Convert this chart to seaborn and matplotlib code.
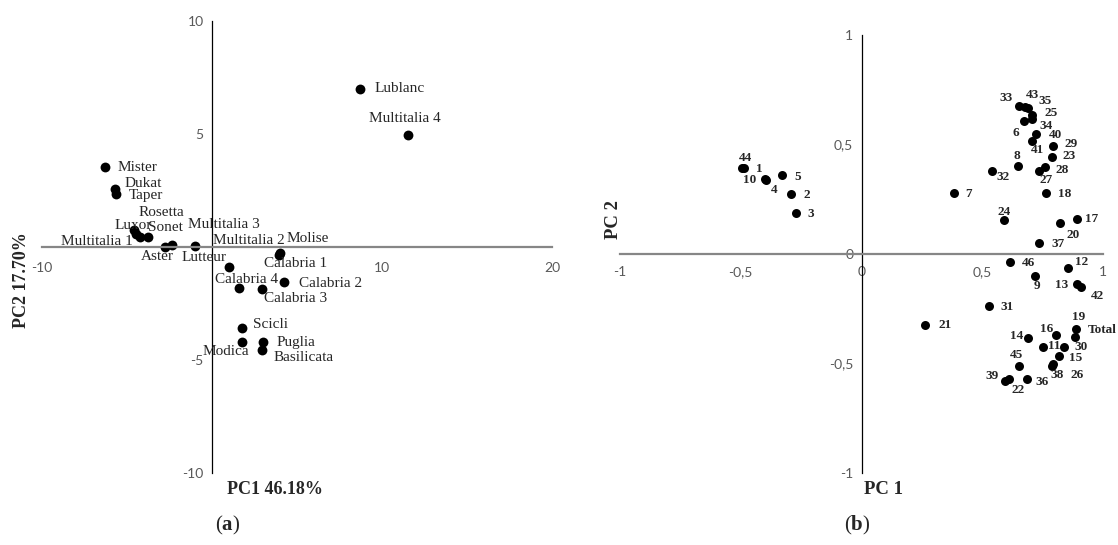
import matplotlib
matplotlib.use("Agg")
import matplotlib.pyplot as plt
import seaborn as sns
import pandas as pd

# Panel (a): cultivars on PC1 / PC2
cultivars = ["Lublanc", "Multitalia 4", "Mister", "Dukat", "Taper", "Rosetta", "Luxor",
             "Sonet", "Multitalia 1", "Multitalia 3", "Aster", "Multitalia 2", "Lutteur",
             "Molise", "Calabria 1", "Calabria 4", "Calabria 2", "Calabria 3", "Scicli",
             "Modica", "Puglia", "Basilicata"]
pc1_a = [8.7, 11.5, -6.3, -5.7, -5.65, -4.45, -4.6, -3.75, -4.25, -2.35, -2.75, -1.0,
         1.0, 4.0, 3.95, 1.6, 4.25, 2.95, 1.75, 1.75, 3.0, 2.95]
pc2_a = [7.0, 4.95, 3.55, 2.55, 2.35, 0.57, 0.75, 0.44, 0.44, 0.09, 0.0, 0.04,
         -0.88, -0.27, -0.35, -1.8, -1.55, -1.85, -3.6, -4.2, -4.2, -4.55]
xticks_a = [-10, 10, 20]
yticks_a = [-10, -5, 5, 10]

# Panel (b): variables on PC 1 / PC 2
variables = ["44", "1", "10", "5", "4", "2", "3", "33", "43", "35", "25", "34", "6", "40",
             "41", "29", "23", "8", "28", "27", "32", "7", "18", "24", "17", "20", "37",
             "46", "12", "9", "13", "42", "31", "21", "19", "Total", "16", "14", "11",
             "30", "15", "45", "38", "26", "39", "22", "36"]
pc1_b = [-0.493, -0.487, -0.40, -0.33, -0.397, -0.29, -0.273, 0.654, 0.678, 0.691,
         0.708, 0.705, 0.674, 0.723, 0.705, 0.792, 0.788, 0.647, 0.760, 0.733, 0.540,
         0.384, 0.763, 0.592, 0.894, 0.822, 0.736, 0.616, 0.857, 0.719, 0.894, 0.908,
         0.529, 0.264, 0.887, 0.884, 0.806, 0.691, 0.751, 0.840, 0.819, 0.654, 0.795,
         0.788, 0.595, 0.609, 0.685]
pc2_b = [0.391, 0.393, 0.341, 0.360, 0.338, 0.273, 0.189, 0.676, 0.673, 0.665, 0.635,
         0.615, 0.607, 0.548, 0.517, 0.494, 0.441, 0.402, 0.396, 0.380, 0.380, 0.280,
         0.280, 0.155, 0.158, 0.140, 0.052, -0.038, -0.062, -0.099, -0.139, -0.152,
         -0.237, -0.324, -0.342, -0.380, -0.370, -0.385, -0.426, -0.423, -0.466, -0.510,
         -0.502, -0.510, -0.578, -0.572, -0.571]
xticks_b = [-1, -0.5, 0, 0.5, 1]
xtick_labels_b = ["-1", "-0,5", "0", "0,5", "1"]
yticks_b = [-1, -0.5, 0, 0.5, 1]
ytick_labels_b = ["-1", "-0,5", "0", "0,5", "1"]

# label offsets in pixels (layout only)
offs_a = [(40, 0), (-3, 17), (33, -1), (28, 6), (30, -2), (25, 22), (-1, 5), (17, 10),
          (-43, -4), (52, 20), (-8, -10), (54, 6), (-25, 9), (28, 15), (16, -9), (7, 8),
          (46, -1), (33, -10), (29, 4), (-16, -10), (33, -1), (41, -8)]
offs_b = [(3, 10), (15, -1), (-15, -1), (16, -2), (9, -10), (15, -1), (15, -1), (-13, 8),
          (7, 12), (17, 7), (19, 2), (14, -7), (-8, -12), (19, -1), (6, -9), (18, 2),
          (17, 1), (-1, 10), (17, -3), (8, -9), (11, -6), (14, -1), (19, -1), (0, 8),
          (14, 0), (13, -12), (19, -1), (18, -1), (13, 6), (2, -10), (-16, -1), (17, -9),
          (18, -1), (20, 0), (3, 12), (27, 7), (-10, 6), (-12, 2), (11, 1), (17, 0),
          (16, -2), (-3, 11), (4, -11), (25, -9), (-13, 5), (10, -11), (15, -3)]

df_a = pd.DataFrame({"pc1": pc1_a, "pc2": pc2_a, "name": cultivars})
df_b = pd.DataFrame({"pc1": pc1_b, "pc2": pc2_b, "name": variables})

sns.set_style("white")
plt.rcParams["font.family"] = ["Liberation Serif", "DejaVu Serif"]
plt.rcParams["axes.unicode_minus"] = False
plt.rcParams["mathtext.fontset"] = "custom"
plt.rcParams["mathtext.rm"] = "Liberation Serif"
plt.rcParams["mathtext.bf"] = "Liberation Serif:bold"

fig = plt.figure(figsize=(11.18, 5.45), dpi=100)
W, H = 1118, 545
ax1 = fig.add_axes([42 / W, 1 - 473 / H, 510 / W, 452 / H])
ax2 = fig.add_axes([620 / W, 1 - 473 / H, 483 / W, 438 / H])


def style_axes(ax, xticks, yticks, xlabels=None, ylabels=None, xpad=8):
    for side in ["top", "right"]:
        ax.spines[side].set_visible(False)
    ax.spines["left"].set_position(("data", 0))
    ax.spines["bottom"].set_position(("data", 0))
    ax.spines["left"].set_color("black")
    ax.spines["left"].set_linewidth(0.9)
    ax.spines["bottom"].set_color("#868686")
    ax.spines["bottom"].set_linewidth(1.6)
    ax.set_xticks(xticks)
    ax.set_yticks(yticks)
    if xlabels is not None:
        ax.set_xticklabels(xlabels)
    if ylabels is not None:
        ax.set_yticklabels(ylabels)
    ax.tick_params(length=0, labelsize=10, labelcolor="#595959")
    ax.tick_params(axis="x", pad=xpad)
    ax.tick_params(axis="y", pad=6)
    for t in ax.get_xticklabels() + ax.get_yticklabels():
        t.set_family("Lato")
    ax.set_xlabel("")
    ax.set_ylabel("")
    ax.set_facecolor("none")


sns.scatterplot(data=df_a, x="pc1", y="pc2", ax=ax1, color="black", s=50,
                edgecolor="black", linewidth=0)
ax1.set_xlim(-10, 20)
ax1.set_ylim(-10, 10)
style_axes(ax1, xticks_a, yticks_a, xpad=11)
for (x, y, n), (dx, dy) in zip(zip(pc1_a, pc2_a, cultivars), offs_a):
    ax1.annotate(n, (x, y), xytext=(dx, dy), textcoords="offset pixels",
                 ha="center", va="center", fontsize=11)

sns.scatterplot(data=df_b, x="pc1", y="pc2", ax=ax2, color="black", s=42,
                edgecolor="black", linewidth=0)
ax2.set_xlim(-1, 1)
ax2.set_ylim(-1, 1)
style_axes(ax2, xticks_b, yticks_b, xtick_labels_b, ytick_labels_b, xpad=9)
for (x, y, n), (dx, dy) in zip(zip(pc1_b, pc2_b, variables), offs_b):
    ax2.annotate(n, (x, y), xytext=(dx, dy), textcoords="offset pixels",
                 ha="center", va="center", fontsize=9.5, fontweight="bold")

# axis titles and panel letters
fig.text(275 / W, 1 - 490 / H, "PC1 46.18%", ha="center", va="center",
         fontsize=13, fontweight="bold")
fig.text(21 / W, 1 - 280 / H, "PC2 17.70%", ha="center", va="center",
         fontsize=13, fontweight="bold", rotation=90)
fig.text(883 / W, 1 - 489 / H, "PC 1", ha="center", va="center",
         fontsize=13.5, fontweight="bold")
fig.text(613 / W, 1 - 220 / H, "PC 2", ha="center", va="center",
         fontsize=13.5, fontweight="bold", rotation=90)
fig.text(228 / W, 1 - 525 / H, r"($\mathbf{a}$)", ha="center", va="center", fontsize=15)
fig.text(857 / W, 1 - 525 / H, r"($\mathbf{b}$)", ha="center", va="center", fontsize=15)

fig.savefig("out.png", dpi=100)
